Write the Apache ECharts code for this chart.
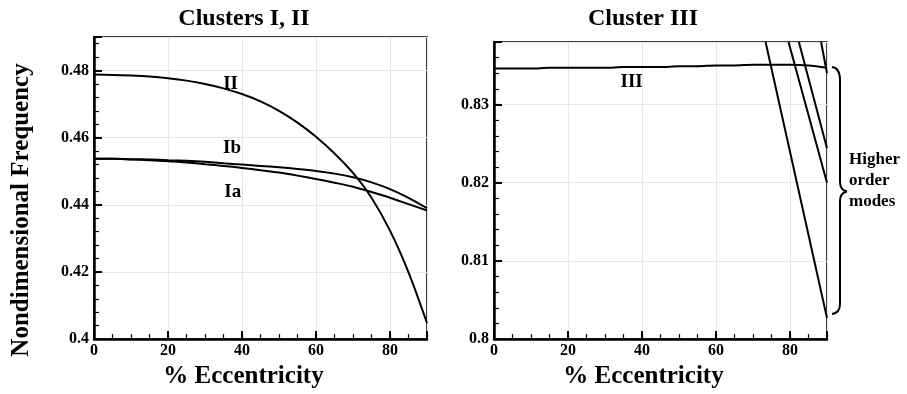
<!DOCTYPE html>
<html>
<head>
<meta charset="utf-8">
<title>Nondimensional Frequency vs Eccentricity</title>
<script src="https://cdn.jsdelivr.net/npm/echarts@6/dist/echarts.min.js"></script>
<style>
  html, body { margin: 0; padding: 0; background: #fff; }
  #chart { width: 907px; height: 394px; }
</style>
</head>
<body>
<div id="chart"></div>
<script>
// % eccentricity samples (shared by both panels)
const ecc = [0, 5, 10, 15, 20, 25, 30, 35, 40, 45, 50, 55, 60, 65, 70, 75, 80, 85, 90];

// clusters I, II
const freqII = [0.4788, 0.4787, 0.4785, 0.4782, 0.4777, 0.4770, 0.4760, 0.4747, 0.4730, 0.4708, 0.4680, 0.4645, 0.4603, 0.4553, 0.4495, 0.4421, 0.4323, 0.4199, 0.4048];
const freqIb = [0.4537, 0.4537, 0.4536, 0.4535, 0.4533, 0.4531, 0.4528, 0.4524, 0.4520, 0.4516, 0.4512, 0.4507, 0.4501, 0.4493, 0.4482, 0.4467, 0.4447, 0.4421, 0.4390];
const freqIa = [0.4537, 0.4537, 0.4535, 0.4533, 0.4530, 0.4526, 0.4521, 0.4516, 0.4510, 0.4503, 0.4496, 0.4487, 0.4477, 0.4466, 0.4454, 0.4438, 0.4421, 0.4402, 0.4383];

// cluster III
const freqIII = [0.8346, 0.8346, 0.8346, 0.8347, 0.8347, 0.8347, 0.8347, 0.8348, 0.8348, 0.8348, 0.8349, 0.8349, 0.8350, 0.8350, 0.8351, 0.8351, 0.8351, 0.8350, 0.8347];

// higher order modes, straight segments coming in from the top edge
const modeStartEcc = [73.4, 79.6, 82.4, 88.4];
const modeStartFreq = [0.838, 0.838, 0.838, 0.838];
const modeEndEcc = [90, 90, 90, 90];
const modeEndFreq = [0.8027, 0.8200, 0.8244, 0.8340];

// tick labels
const xTickLabels = [0, 20, 40, 60, 80];
const leftYTickLabels = [0.4, 0.42, 0.44, 0.46, 0.48];
const rightYTickLabels = [0.8, 0.81, 0.82, 0.83];

const font = '"Liberation Serif", "Times New Roman", serif';

function pairs(xs, ys) {
  return xs.map((x, i) => [x, ys[i]]);
}

function onlyIn(list) {
  return function (v) {
    return list.some(t => Math.abs(t - v) < 1e-6) ? String(v) : '';
  };
}

function majorX(grid) {
  return {
    gridIndex: grid,
    type: 'value',
    position: 'bottom',
    min: 0,
    max: 90,
    interval: 20,
    name: '% Eccentricity',
    nameLocation: 'middle',
    nameGap: 21,
    nameTextStyle: { fontFamily: font, fontWeight: 'bold', fontSize: 25, color: '#000', padding: [0, 34, 0, 0] },
    axisLine: { onZero: false, lineStyle: { color: '#000', width: 2.5 } },
    axisTick: { inside: true, length: 8, lineStyle: { color: '#000', width: 2 } },
    axisLabel: { formatter: onlyIn(xTickLabels), fontFamily: font, fontWeight: 'bold', fontSize: 16, color: '#000', margin: 4 },
    splitLine: { show: true, lineStyle: { color: '#e6e6e6', width: 1 } }
  };
}

function minorX(grid) {
  return {
    gridIndex: grid,
    type: 'value',
    position: 'bottom',
    min: 0,
    max: 90,
    interval: 5,
    axisLine: { show: false, onZero: false },
    axisTick: { inside: true, length: 5, lineStyle: { color: '#000', width: 1.2 } },
    axisLabel: { show: false },
    splitLine: { show: false }
  };
}

function majorY(grid, min, max, interval, labels) {
  return {
    gridIndex: grid,
    type: 'value',
    position: 'left',
    min: min,
    max: max,
    interval: interval,
    axisLine: { show: true, onZero: false, lineStyle: { color: '#000', width: 2.5 } },
    axisTick: { show: true, inside: true, length: 8, lineStyle: { color: '#000', width: 2 } },
    axisLabel: { formatter: onlyIn(labels), fontFamily: font, fontWeight: 'bold', fontSize: 16, color: '#000', margin: 5 },
    splitLine: { show: true, lineStyle: { color: '#e6e6e6', width: 1 } }
  };
}

function minorY(grid, min, max, interval) {
  return {
    gridIndex: grid,
    type: 'value',
    position: 'left',
    min: min,
    max: max,
    interval: interval,
    axisLine: { show: false, onZero: false },
    axisTick: { show: true, inside: true, length: 5, lineStyle: { color: '#000', width: 1.2 } },
    axisLabel: { show: false },
    splitLine: { show: false }
  };
}

function curve(name, data, xi, yi, label) {
  const s = {
    name: name,
    type: 'line',
    xAxisIndex: xi,
    yAxisIndex: yi,
    data: data,
    smooth: 0.3,
    symbol: 'none',
    lineStyle: { color: '#000', width: 2 },
    z: 5
  };
  if (label) {
    s.markPoint = {
      symbol: 'circle',
      symbolSize: 1,
      itemStyle: { color: 'rgba(0,0,0,0)' },
      label: { show: true, position: 'inside', formatter: name, color: '#000', fontFamily: font, fontWeight: 'bold', fontSize: 19 },
      data: [{ coord: label }]
    };
  }
  return s;
}

function bez(x1, y1, cx, cy, x2, y2) {
  return { type: 'bezierCurve', shape: { x1: x1, y1: y1, cpx1: cx, cpy1: cy, x2: x2, y2: y2 }, style: { stroke: '#000', lineWidth: 2, fill: null } };
}

function seg(x1, y1, x2, y2) {
  return { type: 'line', shape: { x1: x1, y1: y1, x2: x2, y2: y2 }, style: { stroke: '#000', lineWidth: 2 } };
}

const chart = echarts.init(document.getElementById('chart'));

const series = [
  curve('II', pairs(ecc, freqII), 0, 0, [36.9, 0.4761]),
  curve('Ib', pairs(ecc, freqIb), 0, 0, [37.3, 0.4569]),
  curve('Ia', pairs(ecc, freqIa), 0, 0, [37.5, 0.4438]),
  curve('III', pairs(ecc, freqIII), 2, 2, [37.2, 0.8329])
];
modeStartEcc.forEach((x, i) => {
  const s = curve('mode' + (i + 1), [[x, modeStartFreq[i]], [modeEndEcc[i], modeEndFreq[i]]], 2, 2);
  s.smooth = false;
  series.push(s);
});

const option = {
  animation: false,
  backgroundColor: '#fff',
  grid: [
    { left: 94, top: 37, width: 333, height: 304, show: true, borderColor: '#000', borderWidth: 1.5, backgroundColor: 'transparent' },
    { left: 494, top: 42, width: 333, height: 302, show: true, borderColor: '#000', borderWidth: 1.5, backgroundColor: 'transparent' }
  ],
  xAxis: [majorX(0), minorX(0), majorX(1), minorX(1)],
  yAxis: [
    majorY(0, 0.4, 0.49, 0.02, leftYTickLabels),
    minorY(0, 0.4, 0.49, 0.004),
    majorY(1, 0.8, 0.838, 0.01, rightYTickLabels),
    minorY(1, 0.8, 0.838, 0.002)
  ],
  series: series,
  graphic: [
    { type: 'text', x: 244, y: 19, style: { text: 'Clusters I, II', font: 'bold 24px ' + font, fill: '#000', textAlign: 'center', textVerticalAlign: 'middle' } },
    { type: 'text', x: 643, y: 19, style: { text: 'Cluster III', font: 'bold 24px ' + font, fill: '#000', textAlign: 'center', textVerticalAlign: 'middle' } },
    { type: 'text', x: 22, y: 210, rotation: Math.PI / 2, style: { text: 'Nondimensional Frequency', font: 'bold 25px ' + font, fill: '#000', textAlign: 'center', textVerticalAlign: 'middle' } },
    // brace next to the higher order modes
    bez(832, 67, 840, 68, 840, 80),
    seg(840, 80, 840, 182),
    bez(840, 182, 840, 190, 847, 191.5),
    bez(847, 191.5, 840, 193, 840, 201),
    seg(840, 201, 840, 304),
    bez(840, 304, 840, 313, 832, 314),
    { type: 'text', x: 849, y: 181, style: { text: 'Higher\norder\nmodes', font: 'bold 17px ' + font, lineHeight: 21, fill: '#000', textAlign: 'left', textVerticalAlign: 'middle' } }
  ]
};

chart.setOption(option);
</script>
</body>
</html>
